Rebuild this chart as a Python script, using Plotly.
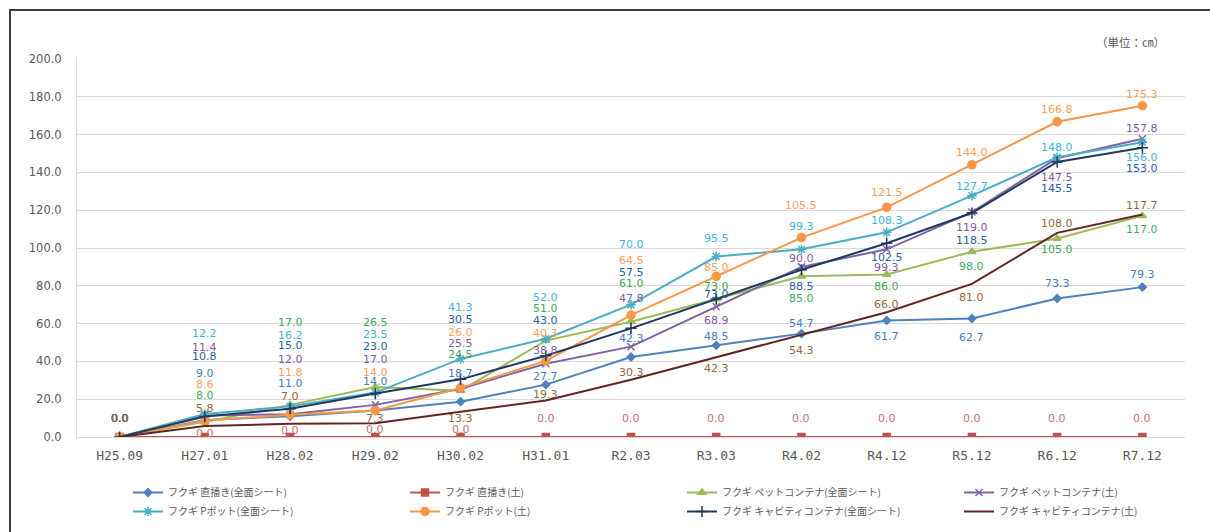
import plotly.graph_objects as go

categories = ["H25.09", "H27.01", "H28.02", "H29.02", "H30.02", "H31.01", "R2.03",
              "R3.03", "R4.02", "R4.12", "R5.12", "R6.12", "R7.12"]

direct_sheet = [0.0, 9.0, 11.0, 14.0, 18.7, 27.7, 42.3, 48.5, 54.7, 61.7, 62.7, 73.3, 79.3]
direct_soil = [0.0, 0.0, 0.0, 0.0, 0.0, 0.0, 0.0, 0.0, 0.0, 0.0, 0.0, 0.0, 0.0]
pet_sheet = [0.0, 8.0, 17.0, 26.5, 24.5, 51.0, 61.0, 73.0, 85.0, 86.0, 98.0, 105.0, 117.0]
pet_soil = [0.0, 11.4, 12.0, 17.0, 25.5, 38.8, 47.8, 68.9, 90.0, 99.3, 119.0, 147.5, 157.8]
ppot_sheet = [0.0, 12.2, 16.2, 23.5, 41.3, 52.0, 70.0, 95.5, 99.3, 108.3, 127.7, 148.0, 156.0]
ppot_soil = [0.0, 8.6, 11.8, 14.0, 26.0, 40.3, 64.5, 85.0, 105.5, 121.5, 144.0, 166.8, 175.3]
cavity_sheet = [0.0, 10.8, 15.0, 23.0, 30.5, 43.0, 57.5, 73.0, 88.5, 102.5, 118.5, 145.5, 153.0]
cavity_soil = [0.0, 5.8, 7.0, 7.3, 13.3, 19.3, 30.3, 42.3, 54.3, 66.0, 81.0, 108.0, 117.7]

series_names = [
    "フクギ 直播き(全面シート)", "フクギ 直播き(土)",
    "フクギ ペットコンテナ(全面シート)", "フクギ ペットコンテナ(土)",
    "フクギ Pポット(全面シート)", "フクギ Pポット(土)",
    "フクギ キャビティコンテナ(全面シート)", "フクギ キャビティコンテナ(土)",
]
series_values = [direct_sheet, direct_soil, pet_sheet, pet_soil,
                 ppot_sheet, ppot_soil, cavity_sheet, cavity_soil]

# styles
line_colors = ["#4F81BD", "#C0504D", "#9BBB59", "#8064A2", "#4BACC6", "#F79646", "#1F3A5F", "#632523"]
label_colors = ["#4A7EBB", "#C97070", "#3BAA5C", "#7F5BA6", "#3FB3DA", "#F5A05A", "#2E5F96", "#94683C"]
symbols = ["diamond", "square", "triangle-up", "x-thin-open", "asterisk-open", "circle", "cross-thin-open", None]
msizes = [6, 7, 7, 7, 8, 8, 8, 0]

# data-label vertical offsets (px, positive = up), as arranged in the source chart
label_offsets = [
    [19, 46, 33, 29, 28, 8, 19, 9, 10, -16, -19, 15, 13],
    [19, 4, 7, 8, 8, 19, 19, 19, 19, 19, 19, 19, 19],
    [19, 26, 82, 64, 36, 32, 38, 13, -22, -12, -15, -11, -14],
    [19, 68, 55, 45, 45, 13, 48, -14, 8, -18, -15, -19, 10],
    [19, 80, 71, 58, 51, 41, 60, 18, 23, 12, 9, 10, -15],
    [19, 36, 42, 38, 55, 27, 55, 9, 32, 15, 12, 12, 11],
    [19, 60, 63, 47, 60, 35, 56, 5, -17, -14, -27, -26, -21],
    [19, 18, 27, 5, -7, 6, 7, -11, -16, 8, -14, 9, 9],
]

W, H = 1210, 532
ml, mr, mt, mb = 77, 25, 59, 95
pw, ph = W - ml - mr, H - mt - mb


def px_x(p):
    return (p - ml) / pw


def px_y(p):
    return (H - mb - p) / ph


fig = go.Figure()
for i, (name, vals) in enumerate(zip(series_names, series_values)):
    sym = symbols[i]
    if sym is None:
        fig.add_trace(go.Scatter(x=categories, y=vals, name=name, mode="lines",
                                 line=dict(color=line_colors[i], width=2)))
    else:
        fig.add_trace(go.Scatter(
            x=categories, y=vals, name=name, mode="lines+markers",
            line=dict(color=line_colors[i], width=2),
            marker=dict(symbol=sym, size=msizes[i], color=line_colors[i],
                        line=dict(color=line_colors[i], width=1.5))))

annotations = []
for i, vals in enumerate(series_values):
    for j, v in enumerate(vals):
        annotations.append(dict(
            x=categories[j], y=v, xref="x", yref="y", text=f"{v:.1f}",
            showarrow=False, yshift=label_offsets[i][j], xanchor="center", yanchor="middle",
            font=dict(family="DejaVu Sans", size=11, color=label_colors[i])))

annotations.append(dict(
    x=px_x(1130), y=px_y(42), xref="paper", yref="paper", text="（単位：㎝）", showarrow=False,
    xanchor="center", yanchor="middle",
    font=dict(family="Noto Sans CJK JP", size=11.5, color="#595959")))

fig.update_layout(
    width=W, height=H,
    margin=dict(l=ml, r=mr, t=mt, b=mb, autoexpand=False),
    paper_bgcolor="white", plot_bgcolor="white",
    font=dict(family="DejaVu Sans", color="#595959"),
    xaxis=dict(type="category", range=[-0.5, 12.5], showgrid=False,
               showline=True, linecolor="#D9D9D9", linewidth=1, ticks="",
               tickfont=dict(family="DejaVu Sans Mono", size=13, color="#595959"),
               ticklabelstandoff=6, zeroline=False),
    yaxis=dict(range=[0, 200], dtick=20, tickformat=".1f", showgrid=True,
               gridcolor="#D9D9D9", gridwidth=1, showline=True, linecolor="#D9D9D9",
               ticks="", zeroline=False, ticklabelstandoff=12,
               tickfont=dict(family="DejaVu Sans", size=11.5, color="#595959")),
    showlegend=True,
    legend=dict(orientation="h", x=px_x(128), y=px_y(478), xanchor="left", yanchor="top",
                entrywidth=232, entrywidthmode="pixels", itemwidth=30,
                font=dict(family="Noto Sans CJK JP", size=10, color="#595959"),
                tracegroupgap=0, traceorder="normal"),
    annotations=annotations,
    shapes=[dict(type="rect", xref="paper", yref="paper",
                 x0=px_x(10), x1=px_x(1240), y0=px_y(560), y1=px_y(10),
                 line=dict(color="#404040", width=2), fillcolor="rgba(0,0,0,0)", layer="above")],
)

fig.write_html("out.html")
